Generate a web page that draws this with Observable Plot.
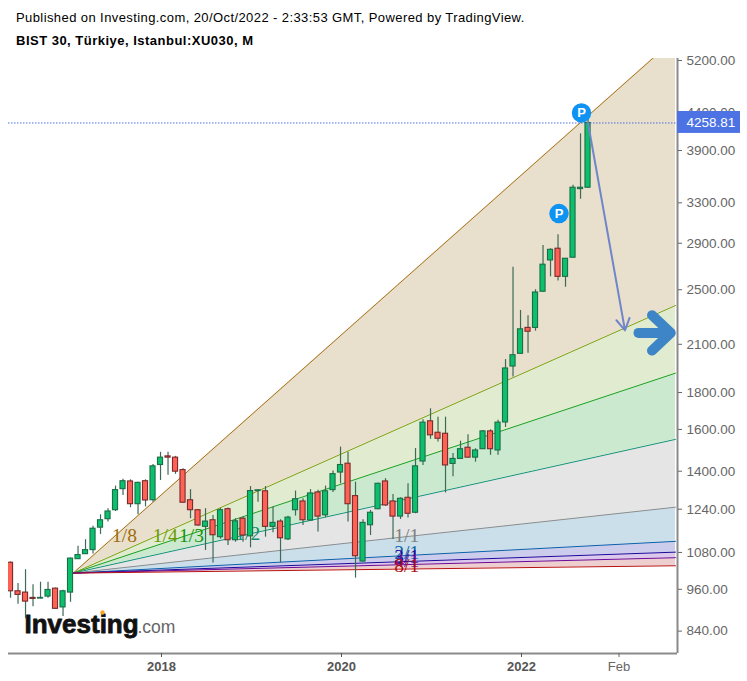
<!DOCTYPE html>
<html><head><meta charset="utf-8">
<script src="https://cdn.jsdelivr.net/npm/d3@7"></script>
<script src="https://cdn.jsdelivr.net/npm/@observablehq/plot@0.6"></script>
<style>
html,body{margin:0;padding:0;background:#fff;overflow:hidden}
#head{height:52px;position:relative;font-family:"Liberation Sans",Arial,sans-serif;font-size:13px;color:#000}
#l1{position:absolute;left:16px;top:10px;letter-spacing:.41px;white-space:nowrap}
#l2{position:absolute;left:16px;top:33px;font-weight:bold;letter-spacing:.49px;white-space:nowrap}
svg{display:block}
</style></head><body>
<div id="head"><div id="l1">Published on Investing.com, 20/Oct/2022 - 2:33:53 GMT, Powered by TradingView.</div>
<div id="l2">BIST 30, Türkiye, Istanbul:XU030, M</div></div>
<div id="chart"></div>
<script>
const open=[1045,954,950,934,932,938,962,906,950,1057,1074,1088,1169,1201,1236,1322,1355,1260,1356,1276,
1428,1468,1462,1405,1276,1236,1172,1197,1134,1240,1123,1203,
1137,1314,1313,1172,1192,1126,1236,1271,1196,1308,1216,1318,
1394,1434,1293,1049,1178,1240,1355,1271,1211,1286,1226,1444,
1642,1583,1578,1433,1456,1509,1462,1502,1590,1496,1636,1956,
2037,2213,2213,2484,2745,2850,2605,2769,3448,3463];
const close=[954,943,923,931,934,958,902,954,1059,1071,1088,1165,1197,1231,1318,1356,1260,1349,1275,1422,
1462,1462,1398,1266,1236,1177,1192,1141,1236,1123,1193,1140,
1314,1317,1172,1187,1130,1207,1280,1197,1304,1211,1313,1387,
1428,1260,1067,1187,1226,1345,1255,1211,1282,1222,1422,1635,
1570,1553,1426,1456,1502,1462,1496,1590,1502,1635,1944,2028,
2203,2186,2478,2708,2840,2605,2760,3463,3463,4258.81];
const high=[1048,978,1022,974,982,982,964,957,1061,1102,1125,1174,1218,1242,1335,1364,1362,1352,1362,1430,
1487,1487,1468,1411,1320,1238,1242,1215,1244,1245,1203,1209,
1333,1320,1333,1249,1199,1212,1314,1282,1320,1317,1335,1401,
1512,1488,1352,1199,1235,1347,1367,1300,1286,1345,1505,1650,
1709,1664,1664,1481,1541,1573,1504,1595,1598,1647,2000,2686,
2340,2300,2500,2880,2850,2980,2762,3490,4114,4330];
const low=[933,915,874,908,931,933,900,880,921,1056,1073,1075,1144,1190,1231,1295,1246,1218,1249,1268,
1359,1382,1386,1264,1203,1174,1087,1044,1127,1104,1116,1116,
1096,1268,1134,1150,1045,1122,1213,1177,1193,1153,1207,1308,
1345,1190,995,1047,1140,1238,1251,1126,1200,1206,1222,1426,
1550,1537,1306,1375,1453,1460,1441,1501,1473,1473,1610,1891,
2037,2041,2190,2481,2605,2570,2520,2766,3338,3460];
const months=d3.utcMonth.range(new Date(Date.UTC(2016,4,1)),new Date(Date.UTC(2022,10,1)));
const epoch=new Date(Date.UTC(2018,0,1));
const barShift=-0.13;
const candles=months.map((m,i)=>({k:d3.utcMonth.count(epoch,m)+barShift,o:open[i],c:close[i],h:high[i],l:low[i],up:close[i]>=open[i]}));

const fanLabels=["1/8","1/4","1/3","1/2","1/1","2/1","3/1","4/1","8/1"];
const fanEnd=[5584,2377,1915,1550,1248,1119,1081,1062,1035];
const fanOrigin=1011, fanK0=-11.77, fanK1=68.53;
const fanLine=["#a8741a","#7f9f10","#1ea01e","#119577","#8c8c8c","#0a62a8","#1a0a9a","#6a0a9a","#b81010"];
const fanText_=["#a06c08","#6c9a04","#149414","#0f8d70","#808080","#0a5fa5","#1a0a9a","#6a0a9a","#b00c0c"];
const fanFill=["#e9dfcd","#e1ebd0","#cae9cf","#e5e5e5","#cbdfea","#cccdec","#dcc8ec","#eecfcf"];
const labelK=[-4.93,0.5,4,11.5,32.7,32.7,32.7,32.7,32.7];
const labelV=[1140,1140,1140,1146,1140,1078,1066,1053,1036];

const yTicks=[5200,4400,3900,3300,2900,2500,2100,1800,1600,1400,1240,1080,960,840];
const last=4258.81;
const badgeK=[56,53], badgeV=[4397,3189];
const projection=[{k1:56.87,v1:4258.81,k2:61.8,v2:2195}];
const bigShaft=[{k:63.6,v:2178},{k:67.8,v:2178}];
const bigHead=[{k:65.4,v:2305},{k:67.9,v:2178},{k:65.4,v:2058}];
const xL=-20.4,xR=68.8,yB=782,yT=5233;
const sans='"Liberation Sans",Arial,sans-serif';

const fanBands=fanFill.map((f,i)=>[{k:fanK0,a:fanOrigin,b:fanOrigin,i},{k:fanK1,a:fanEnd[i],b:fanEnd[i+1],i}]).flat();
const fanLines=fanEnd.map((e,i)=>[{k:fanK0,v:fanOrigin,i},{k:fanK1,v:e,i}]).flat();
const fanText=fanLabels.map((t,i)=>({t,k:labelK[i],v:labelV[i],c:fanText_[i]}));

const plot=Plot.plot({
  width:747,height:629,marginLeft:8,marginRight:70,marginTop:6,marginBottom:28,
  style:{background:"transparent",fontFamily:sans,overflow:"visible"},
  x:{type:"linear",domain:[xL,xR],axis:null},
  y:{type:"log",domain:[yB,yT],axis:null},
  marks:[
    ...fanFill.map((f,j)=>Plot.areaY(fanBands.filter(d=>d.i===j),{x:"k",y1:"a",y2:"b",fill:f,clip:true})),
    ...fanLine.map((s,j)=>Plot.line(fanLines.filter(d=>d.i===j),{x:"k",y:"v",stroke:s,strokeWidth:1,clip:true})),
    Plot.text(fanText,{x:"k",y:"v",text:"t",fill:"c",fontFamily:'"Liberation Serif",serif',fontSize:19.5,lineAnchor:"middle"}),
    Plot.text(["Investing"],{frameAnchor:"bottom-left",dx:16,dy:-21,text:d=>d,textAnchor:"start",lineAnchor:"bottom",fontFamily:sans,fontWeight:"bold",fontSize:26,fill:"#111",stroke:"#111",strokeWidth:.8}),
    Plot.text([".com"],{frameAnchor:"bottom-left",dx:129,dy:-21,text:d=>d,textAnchor:"start",lineAnchor:"bottom",fontFamily:sans,fontSize:17.5,fill:"#666"}),
    Plot.dot([0],{frameAnchor:"bottom-left",dx:94,dy:-41,r:2.2,fill:"#f5a623"}),
    Plot.ruleX(candles,{x:"k",y1:"l",y2:"h",stroke:"#3d6b55",strokeWidth:1.2,clip:true}),
    Plot.rect(candles,{x1:d=>d.k-.34,x2:d=>d.k+.34,y1:d=>Math.min(d.o,d.c),y2:d=>Math.max(d.o,d.c),
      fill:d=>d.up?"#0bbf6d":"#ff6154",stroke:d=>d.up?"#1b6e48":"#7a2b2b",strokeWidth:1.1,clip:true}),
    Plot.ruleY([last],{stroke:"#3a62e0",strokeWidth:.9,strokeDasharray:"1.5,1.5"}),
    Plot.arrow(projection,{x1:"k1",y1:"v1",x2:"k2",y2:"v2",bend:0,stroke:"#6f86c9",strokeWidth:2,headLength:10,headAngle:60}),
    Plot.line(bigShaft,{x:"k",y:"v",stroke:"#3d85c6",strokeWidth:10,strokeLinecap:"round"}),
    Plot.line(bigHead,{x:"k",y:"v",stroke:"#3d85c6",strokeWidth:10,strokeLinecap:"round",strokeLinejoin:"round"}),
    Plot.dot(badgeK,{x:d=>d,y:(d,i)=>badgeV[i],r:9.7,fill:"#0f93f2"}),
    Plot.text(badgeK,{x:d=>d,y:(d,i)=>badgeV[i],text:()=>"P",fill:"white",fontWeight:"bold",fontSize:13,fontFamily:sans,lineAnchor:"middle"}),
    Plot.ruleX([xR],{stroke:"#8a8a8a",strokeWidth:2}),
    Plot.ruleY([yB],{stroke:"#8a8a8a",strokeWidth:2}),
    Plot.axisY({anchor:"right",ticks:yTicks,tickSize:4,tickPadding:5,tickFormat:d3.format(".2f"),label:null,fontSize:13.5,color:"#666",stroke:"#666",fontFamily:sans}),
    Plot.axisX({anchor:"bottom",ticks:[0,24,48],tickSize:4,tickPadding:4,tickFormat:d=>String(2018+d/12),label:null,fontSize:13,fontWeight:"bold",color:"#555",fontFamily:sans}),
    Plot.axisX({anchor:"bottom",ticks:[61],tickSize:4,tickPadding:4,tickFormat:()=>"Feb",label:null,fontSize:13,color:"#666",fontFamily:sans}),
    Plot.rect([0],{x1:()=>xR,x2:()=>77.2,y1:()=>4119,y2:()=>4418,fill:"#4c72e4"}),
    Plot.text([last],{x:()=>xR,y:d=>d,text:d=>d.toFixed(2),dx:9,textAnchor:"start",fill:"white",fontSize:13.5,fontFamily:sans,lineAnchor:"middle"})
  ]
});
document.getElementById("chart").appendChild(plot);
</script></body></html>
